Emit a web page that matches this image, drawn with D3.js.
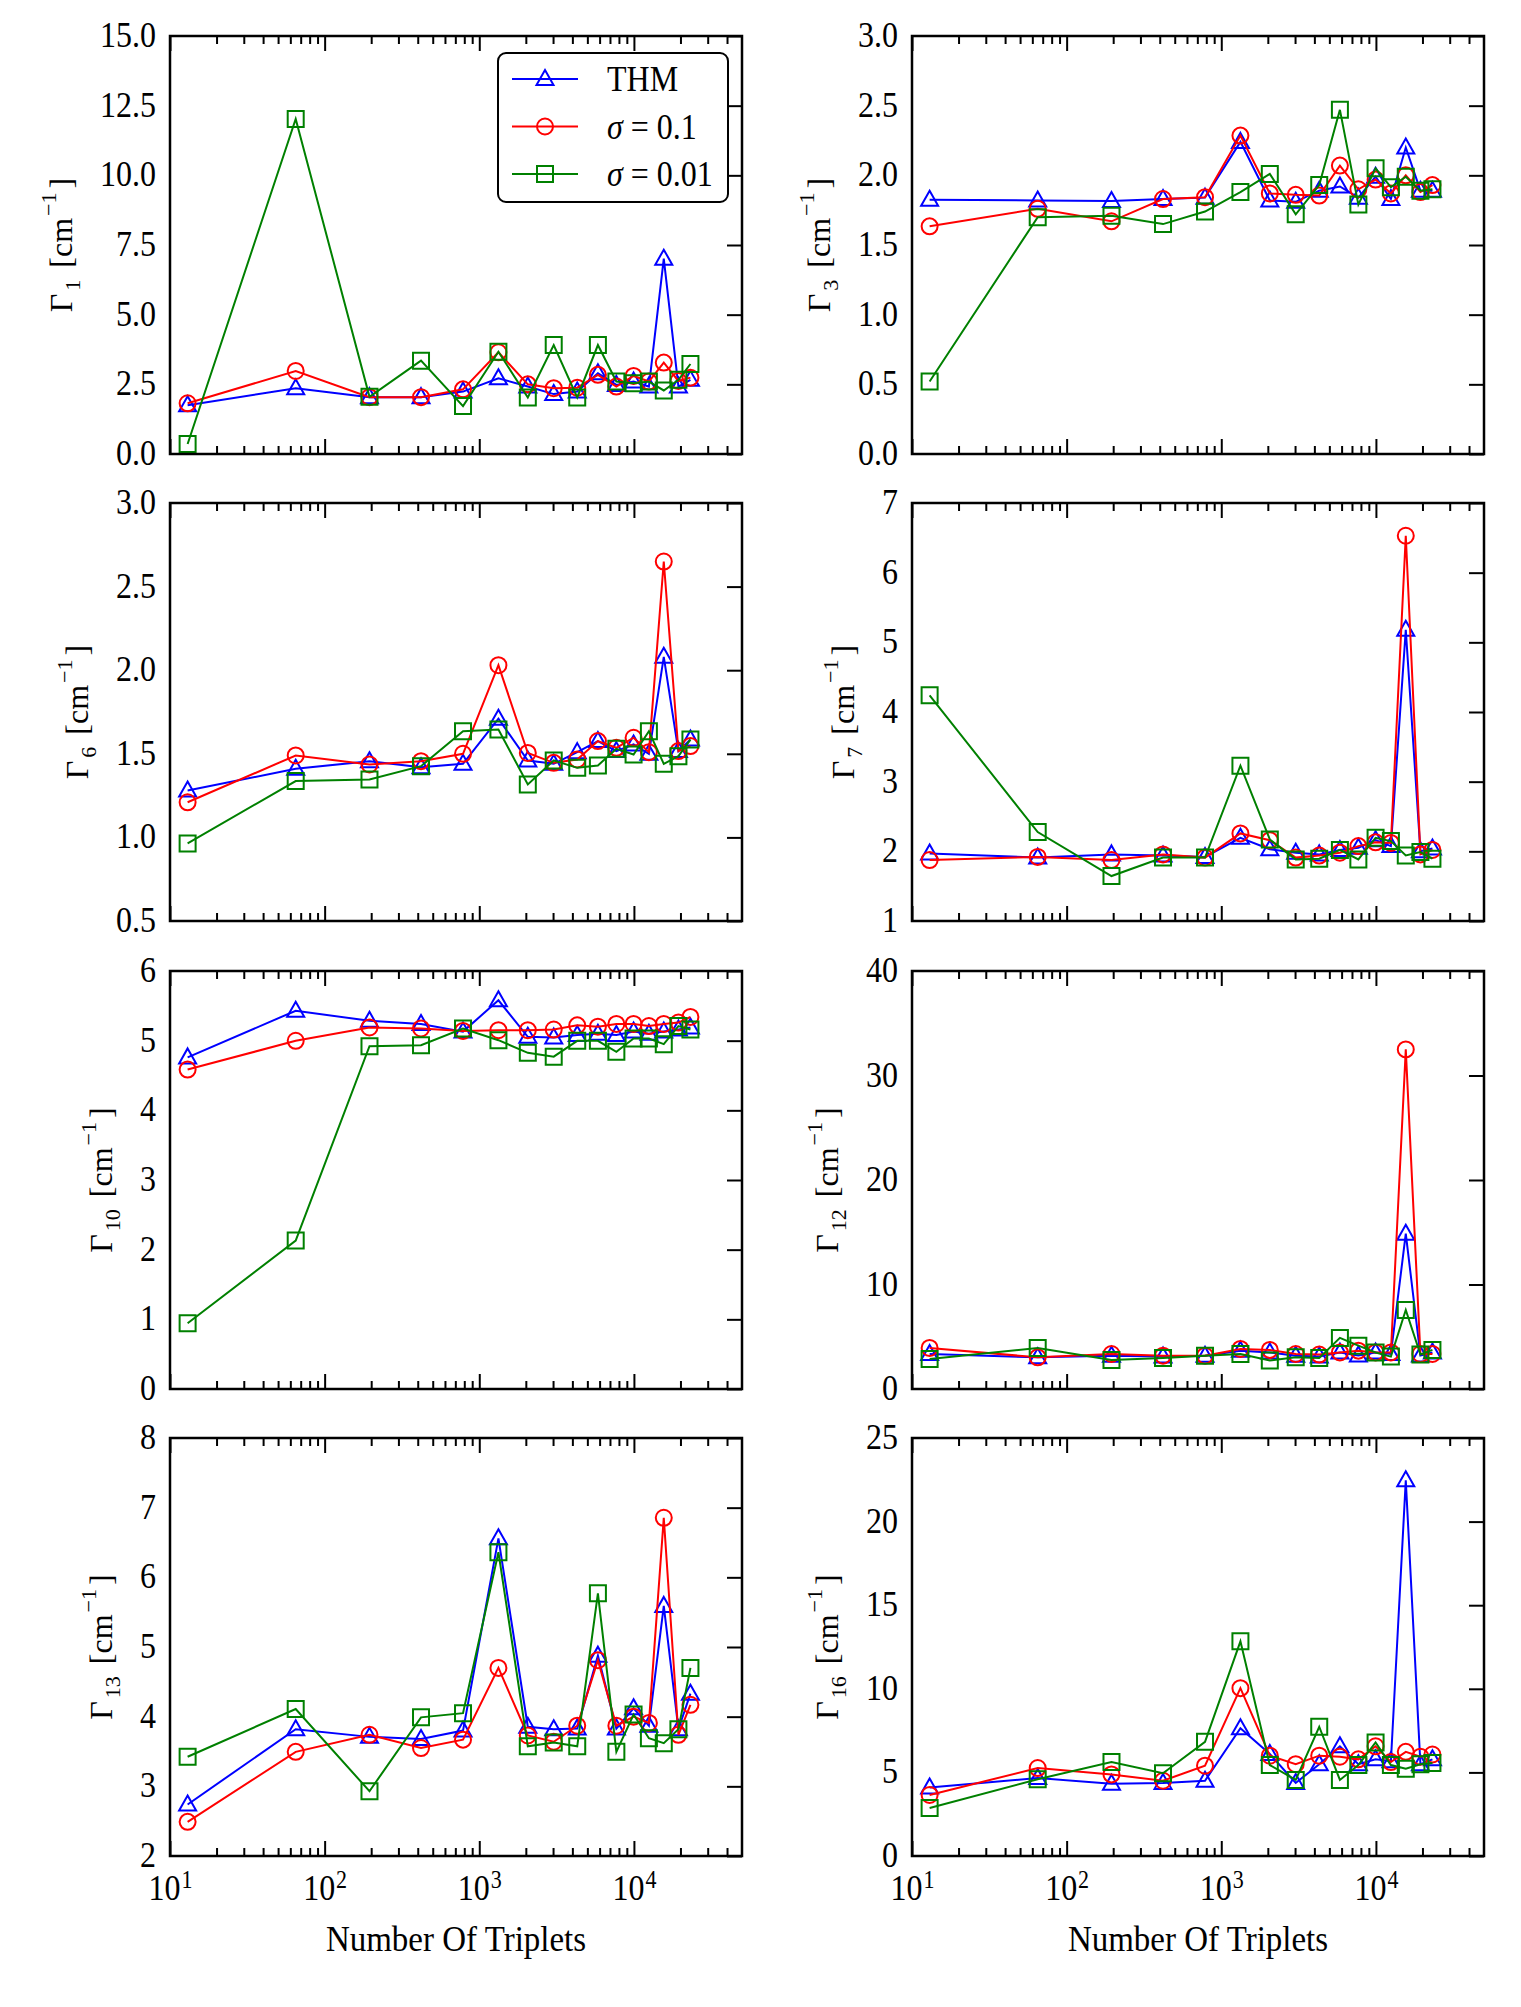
<!DOCTYPE html>
<html><head><meta charset="utf-8">
<script src="https://cdn.jsdelivr.net/npm/d3@7"></script>
<style>
body{margin:0;background:#fff}
svg{display:block}
svg text{font-family:"Liberation Serif","Times New Roman",serif !important;fill:#000}
</style>
</head><body>
<svg id="c" width="1521" height="2007"></svg>
<script>
// ---------------- DATA ----------------
const triplets = [13, 65, 195, 420, 785, 1330, 2060, 3030, 4300, 5850, 7700, 9950, 12500, 15600, 19400, 23200];
const seriesNames = ["THM", "σ = 0.1", "σ = 0.01"];
const seriesColors = ["#0000ff", "#ff0000", "#008000"];
const seriesMarkers = ["triangle", "circle", "square"];

const panelIndices = ["1", "3", "6", "7", "10", "12", "13", "16"];
const yDomains = [[0, 15], [0, 3], [0.5, 3], [1, 7], [0, 6], [0, 40], [2, 8], [0, 25]];
const yTickValues = [
  [0, 2.5, 5, 7.5, 10, 12.5, 15],
  [0, 0.5, 1, 1.5, 2, 2.5, 3],
  [0.5, 1, 1.5, 2, 2.5, 3],
  [1, 2, 3, 4, 5, 6, 7],
  [0, 1, 2, 3, 4, 5, 6],
  [0, 10, 20, 30, 40],
  [2, 3, 4, 5, 6, 7, 8],
  [0, 5, 10, 15, 20, 25]
];
const yTickFormats = [".1f", ".1f", ".1f", "d", "d", "d", "d", "d"];
const xMajorTicks = [10, 100, 1000, 10000];
const xTickExponents = ["1", "2", "3", "4"];

const thm_G1  = [1.75, 2.36, 2.04, 2.04, 2.24, 2.72, 2.42, 2.15, 2.24, 2.90, 2.48, 2.60, 2.42, 7.01, 2.42, 2.66];
const s01_G1  = [1.82, 2.98, 2.04, 2.04, 2.32, 3.65, 2.50, 2.36, 2.38, 2.84, 2.42, 2.80, 2.60, 3.28, 2.62, 2.74];
const s001_G1 = [0.36, 12.02, 2.05, 3.35, 1.72, 3.67, 2.03, 3.91, 2.03, 3.91, 2.60, 2.54, 2.60, 2.28, 2.66, 3.23];

const thm_G3  = [1.824, 1.82, 1.815, 1.83, 1.84, 2.24, 1.82, 1.81, 1.89, 1.92, 1.84, 1.99, 1.83, 2.20, 1.89, 1.89];
const s01_G3  = [1.634, 1.76, 1.67, 1.83, 1.843, 2.285, 1.87, 1.86, 1.855, 2.07, 1.90, 1.97, 1.87, 2.00, 1.88, 1.93];
const s001_G3 = [0.52, 1.70, 1.71, 1.65, 1.74, 1.88, 2.01, 1.72, 1.93, 2.47, 1.79, 2.05, 1.915, 1.99, 1.89, 1.90];

const thm_G6  = [1.28, 1.41, 1.456, 1.42, 1.44, 1.71, 1.46, 1.44, 1.51, 1.576, 1.516, 1.556, 1.50, 2.08, 1.516, 1.585];
const s01_G6  = [1.21, 1.49, 1.436, 1.456, 1.50, 2.03, 1.505, 1.446, 1.466, 1.576, 1.536, 1.596, 1.51, 2.65, 1.516, 1.546];
const s001_G6 = [0.964, 1.337, 1.347, 1.426, 1.635, 1.645, 1.317, 1.46, 1.416, 1.43, 1.53, 1.496, 1.635, 1.44, 1.486, 1.585];

const thm_G7  = [1.97, 1.91, 1.956, 1.94, 1.92, 2.195, 2.03, 1.98, 1.956, 2.02, 2.05, 2.16, 2.075, 5.18, 2.00, 2.04];
const s01_G7  = [1.875, 1.92, 1.875, 1.956, 1.91, 2.257, 2.16, 1.91, 1.94, 1.98, 2.075, 2.13, 2.12, 6.53, 1.956, 2.02];
const s001_G7 = [4.24, 2.276, 1.645, 1.91, 1.91, 3.23, 2.17, 1.884, 1.894, 2.02, 1.884, 2.195, 2.147, 1.94, 1.99, 1.894];

const thm_G10  = [4.76, 5.43, 5.285, 5.24, 5.13, 5.58, 5.055, 5.045, 5.08, 5.10, 5.08, 5.13, 5.10, 5.13, 5.16, 5.19];
const s01_G10  = [4.585, 4.998, 5.19, 5.175, 5.14, 5.15, 5.15, 5.16, 5.22, 5.20, 5.24, 5.24, 5.21, 5.24, 5.26, 5.34];
const s001_G10 = [0.944, 2.13, 4.92, 4.935, 5.175, 5.007, 4.825, 4.77, 4.998, 4.998, 4.84, 5.03, 5.03, 4.95, 5.21, 5.16];

const thm_G12  = [3.35, 3.03, 3.19, 3.10, 3.19, 3.67, 3.50, 3.19, 3.10, 3.50, 3.20, 3.50, 3.35, 14.86, 3.20, 3.50];
const s01_G12  = [3.93, 3.03, 3.35, 3.19, 3.19, 3.83, 3.74, 3.35, 3.30, 3.50, 3.67, 3.50, 3.50, 32.5, 3.35, 3.35];
const s001_G12 = [2.88, 3.93, 2.78, 2.97, 3.19, 3.35, 2.72, 3.03, 2.97, 4.89, 4.15, 3.50, 3.10, 7.57, 3.30, 3.74];

const thm_G13  = [2.74, 3.82, 3.71, 3.68, 3.80, 6.56, 3.855, 3.82, 3.83, 4.876, 3.83, 4.12, 3.87, 5.59, 3.82, 4.33];
const s01_G13  = [2.49, 3.495, 3.74, 3.55, 3.67, 4.70, 3.73, 3.64, 3.87, 4.81, 3.87, 4.00, 3.91, 6.855, 3.74, 4.17];
const s001_G13 = [3.425, 4.11, 2.93, 3.99, 4.05, 6.36, 3.575, 3.63, 3.575, 5.77, 3.495, 4.03, 3.69, 3.62, 3.82, 4.70];

const thm_G16  = [4.10, 4.66, 4.32, 4.37, 4.50, 7.64, 6.10, 4.37, 5.49, 6.56, 5.49, 5.78, 5.67, 22.47, 5.49, 5.78];
const s01_G16  = [3.65, 5.26, 4.88, 4.50, 5.40, 10.04, 6.00, 5.49, 6.00, 5.94, 5.78, 6.56, 5.62, 6.23, 5.94, 6.07];
const s001_G16 = [2.87, 4.59, 5.62, 4.95, 6.83, 12.84, 5.44, 4.55, 7.73, 4.55, 5.44, 6.79, 5.44, 5.22, 5.49, 5.56];

const panelSeries = [
  [thm_G1, s01_G1, s001_G1],
  [thm_G3, s01_G3, s001_G3],
  [thm_G6, s01_G6, s001_G6],
  [thm_G7, s01_G7, s001_G7],
  [thm_G10, s01_G10, s001_G10],
  [thm_G12, s01_G12, s001_G12],
  [thm_G13, s01_G13, s001_G13],
  [thm_G16, s01_G16, s001_G16]
];

// ---------------- LAYOUT ----------------
const colX = [170, 912], rowY = [36, 503, 971, 1438];
const PW = 572, PH = 418;
const FONT = 32, SMALL = 22;
const STRETCH = 1.1;   // text in the original is slightly taller than wide
const SERIF = '"Liberation Serif","Times New Roman",serif';

const svg = d3.select("#c");

function drawMarker(sel, type, color) {
  if (type === "circle") {
    return sel.append("circle").attr("r", 8).attr("fill", "none").attr("stroke", color).attr("stroke-width", 2);
  }
  const d = type === "triangle" ? "M0,-9L8.5,6L-8.5,6Z" : "M-8,-8H8V8H-8Z";
  return sel.append("path").attr("d", d).attr("fill", "none").attr("stroke", color).attr("stroke-width", 2);
}

const xMinor = [];
for (let e = 1; e <= 4; e++) for (let k = 2; k <= 9; k++) { const v = k * Math.pow(10, e); if (v < 5e4) xMinor.push(v); }

panelIndices.forEach((pname, i) => {
  const x0 = colX[i % 2], y0 = rowY[Math.floor(i / 2)];
  const g = svg.append("g").attr("transform", `translate(${x0},${y0})`);
  const x = d3.scaleLog().domain([10, 5e4]).range([0, PW]);
  const y = d3.scaleLinear().domain(yDomains[i]).range([PH, 0]);

  const tickStyle = s => { s.select(".domain").remove(); s.selectAll("line").attr("stroke", "#000").attr("stroke-width", 2); };
  g.append("g").attr("transform", `translate(0,${PH})`)
    .call(d3.axisBottom(x).tickValues(xMajorTicks).tickSize(-15).tickFormat("")).call(tickStyle);
  g.append("g").attr("transform", `translate(0,${PH})`)
    .call(d3.axisBottom(x).tickValues(xMinor).tickSize(-8).tickFormat("")).call(tickStyle);
  g.append("g")
    .call(d3.axisTop(x).tickValues(xMajorTicks).tickSize(-15).tickFormat("")).call(tickStyle);
  g.append("g")
    .call(d3.axisTop(x).tickValues(xMinor).tickSize(-8).tickFormat("")).call(tickStyle);

  g.append("g").attr("transform", `translate(${PW},0)`)
    .call(d3.axisRight(y).tickValues(yTickValues[i]).tickSize(-15).tickFormat("")).call(tickStyle);

  // y tick labels on the left
  const yl = g.append("g")
    .call(d3.axisLeft(y).tickValues(yTickValues[i]).tickSize(0).tickPadding(14).tickFormat(d3.format(yTickFormats[i])));
  yl.select(".domain").remove();
  yl.attr("font-family", SERIF).attr("font-size", FONT);
  yl.selectAll("text").attr("font-size", FONT).attr("font-family", SERIF).style("font-family", SERIF)
    .attr("fill", "#000").attr("dy", "0.30em").attr("transform", `scale(1,${STRETCH})`);
  let maxW = 0;
  yl.selectAll("text").each(function () { maxW = Math.max(maxW, this.getComputedTextLength()); });

  // x tick labels on bottom row
  if (Math.floor(i / 2) === 3) {
    const xl = g.append("g").attr("transform", `translate(0,${PH})`)
      .call(d3.axisBottom(x).tickValues(xMajorTicks).tickSize(0).tickFormat(""));
    xl.select(".domain").remove();
    xl.selectAll(".tick").each(function (d, j) {
      const t = d3.select(this).append("text").attr("transform", `translate(0,44) scale(1,${STRETCH})`)
        .attr("text-anchor", "middle").attr("font-size", FONT).style("font-family", SERIF);
      t.append("tspan").text("10");
      t.append("tspan").attr("font-size", SMALL).attr("dy", -11).attr("dx", 1).text(xTickExponents[j]);
    });
    g.append("text").attr("transform", `translate(${PW / 2},${PH + 95}) scale(1,${STRETCH})`)
      .attr("text-anchor", "middle").attr("font-size", 33).style("font-family", SERIF).text("Number Of Triplets");
  }

  // y label
  const bx = -14 - maxW - 28;
  const t = g.append("text").attr("transform", `translate(${bx},${PH / 2}) rotate(-90)`)
    .attr("text-anchor", "middle").attr("font-size", FONT).style("font-family", SERIF);
  t.append("tspan").text("Γ");
  t.append("tspan").attr("font-size", SMALL).attr("dy", 8).attr("dx", 3).text(pname);
  t.append("tspan").attr("dy", -8).attr("dx", 12).text("[cm");
  t.append("tspan").attr("font-size", SMALL).attr("dy", -16).attr("dx", 2).text("−1");
  t.append("tspan").attr("dy", 16).attr("dx", 4).text("]");

  // series
  const line = d3.line().x((d, k) => x(triplets[k])).y(d => y(d));
  panelSeries[i].forEach((vals, s) => {
    const sg = g.append("g");
    sg.append("path").attr("d", line(vals)).attr("fill", "none")
      .attr("stroke", seriesColors[s]).attr("stroke-width", 2);
    vals.forEach((v, k) => {
      const m = sg.append("g").attr("transform", `translate(${x(triplets[k])},${y(v)})`);
      drawMarker(m, seriesMarkers[s], seriesColors[s]);
    });
  });

  // frame
  g.append("rect").attr("x", 0).attr("y", 0).attr("width", PW).attr("height", PH)
    .attr("fill", "none").attr("stroke", "#000").attr("stroke-width", 2.5);

  // legend on first panel
  if (i === 0) {
    const lg = g.append("g");
    lg.append("rect").attr("x", 328).attr("y", 17).attr("width", 230).attr("height", 149).attr("rx", 8)
      .attr("fill", "#fff").attr("stroke", "#000").attr("stroke-width", 2);
    const rowsY = [43, 90.5, 138];
    seriesNames.forEach((name, s) => {
      const ry = rowsY[s];
      lg.append("line").attr("x1", 342).attr("x2", 408).attr("y1", ry).attr("y2", ry)
        .attr("stroke", seriesColors[s]).attr("stroke-width", 2);
      const m = lg.append("g").attr("transform", `translate(375,${ry})`);
      drawMarker(m, seriesMarkers[s], seriesColors[s]);
      const tx = lg.append("text").attr("transform", `translate(437,${ry}) scale(1,${STRETCH})`)
        .attr("dy", "0.35em").attr("font-size", FONT).style("font-family", SERIF);
      if (name.startsWith("σ")) {
        tx.append("tspan").attr("font-style", "italic").text("σ");
        tx.append("tspan").text(name.slice(1));
      } else {
        tx.text(name);
      }
    });
  }
});
</script>
</body></html>
